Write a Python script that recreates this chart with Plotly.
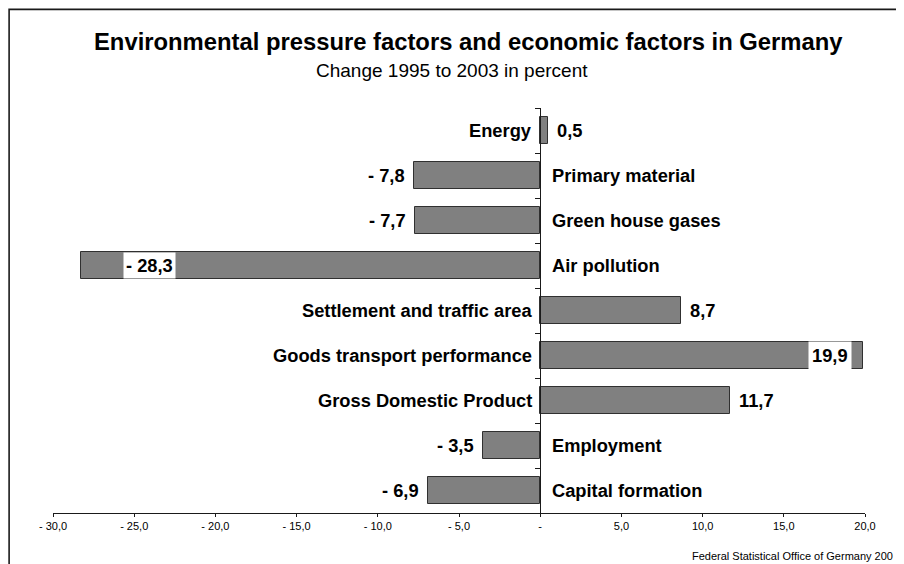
import plotly.graph_objects as go

categories = ["Energy", "Primary material", "Green house gases", "Air pollution",
              "Settlement and traffic area", "Goods transport performance",
              "Gross Domestic Product", "Employment", "Capital formation"]
values = [0.5, -7.8, -7.7, -28.3, 8.7, 19.9, 11.7, -3.5, -6.9]
value_labels = ["0,5", "- 7,8", "- 7,7", "- 28,3", "8,7", "19,9", "11,7", "- 3,5", "- 6,9"]
inside_label = [False, False, False, True, False, True, False, False, False]
tick_vals = [-30, -25, -20, -15, -10, -5, 0, 5, 10, 15, 20]
tick_text = ["- 30,0", "- 25,0", "- 20,0", "- 15,0", "- 10,0", "- 5,0", "-", "5,0", "10,0", "15,0", "20,0"]

OFF = 8  # page body margin in the browser
W, H = 896, 556
L, R, T, B = 44.7, 39.2, 99.5, 51
PW, PH = W - L - R, H - T - B


def px_x(sx):
    """screen x -> paper fraction"""
    return (sx - OFF - L) / PW


def px_y(sy):
    """screen y -> paper fraction"""
    return (H - B - (sy - OFF)) / PH


FONT = "Liberation Sans, Arial, sans-serif"
LBL = 18.3
ypos = list(range(len(categories)))

fig = go.Figure()
fig.add_trace(go.Bar(
    x=values, y=ypos, orientation="h", width=0.61,
    marker=dict(color="#808080", line=dict(color="#303030", width=1)),
    hoverinfo="skip", showlegend=False,
))

ann = []
for i, (cat, v, lab, ins) in enumerate(zip(categories, values, value_labels, inside_label)):
    f = dict(family=FONT, size=LBL, color="black")
    if v >= 0:
        ann.append(dict(x=0, y=i, xref="x", yref="y", text="<b>%s</b>" % cat, showarrow=False,
                        xanchor="right", xshift=-6, font=f))
    else:
        ann.append(dict(x=0, y=i, xref="x", yref="y", text="<b>%s</b>" % cat, showarrow=False,
                        xanchor="left", xshift=10, font=f))
    t = "<b>%s</b>" % lab
    if ins:
        if v < 0:
            ann.append(dict(x=v, y=i, xref="x", yref="y", text=t, showarrow=False,
                            xanchor="left", xshift=42, bgcolor="white", borderpad=2, font=f))
        else:
            ann.append(dict(x=v, y=i, xref="x", yref="y", text=t, showarrow=False,
                            xanchor="right", xshift=-11, bgcolor="white", borderpad=3, font=f))
    else:
        if v >= 0:
            ann.append(dict(x=v, y=i, xref="x", yref="y", text=t, showarrow=False,
                            xanchor="left", xshift=7, font=f))
        else:
            ann.append(dict(x=v, y=i, xref="x", yref="y", text=t, showarrow=False,
                            xanchor="right", xshift=-7, font=f))

ann.append(dict(x=px_x(468), y=px_y(41), xref="paper", yref="paper", showarrow=False,
                text="<b>Environmental pressure factors and economic factors in Germany</b>",
                xanchor="center", yanchor="middle", font=dict(family=FONT, size=23.8, color="black")))
ann.append(dict(x=px_x(452), y=px_y(69.5), xref="paper", yref="paper", showarrow=False,
                text="Change 1995 to 2003 in percent",
                xanchor="center", yanchor="middle", font=dict(family=FONT, size=19, color="black")))
ann.append(dict(x=px_x(895), y=px_y(556), xref="paper", yref="paper", showarrow=False,
                text="Federal Statistical Office of Germany 200",
                xanchor="right", yanchor="middle", font=dict(family=FONT, size=11, color="black")))

fig.update_layout(
    width=W, height=H,
    margin=dict(l=L, r=R, t=T, b=B, pad=0),
    paper_bgcolor="white", plot_bgcolor="white",
    bargap=0,
    annotations=ann,
    shapes=[dict(type="rect", xref="paper", yref="paper",
                 x0=px_x(8.8), x1=px_x(960), y0=px_y(620), y1=px_y(8.8),
                 line=dict(color="#1a1a1a", width=1.6), fillcolor="rgba(0,0,0,0)", layer="below")],
    xaxis=dict(range=[-30, 20], tickvals=tick_vals, ticktext=tick_text,
               showgrid=False, zeroline=False, showline=True, linecolor="#1a1a1a", linewidth=1,
               ticks="outside", ticklen=3, tickcolor="#1a1a1a",
               tickfont=dict(family=FONT, size=11, color="black"), fixedrange=True),
    yaxis=dict(range=[len(categories) - 0.5, -0.5],
               tickvals=[k - 0.5 for k in range(len(categories) + 1)],
               showticklabels=False, showgrid=False, zeroline=False,
               showline=True, linecolor="#1a1a1a", linewidth=1,
               ticks="outside", ticklen=5, tickcolor="#1a1a1a",
               anchor="free", position=30 / 50, fixedrange=True),
)

fig.write_html("out.html")
